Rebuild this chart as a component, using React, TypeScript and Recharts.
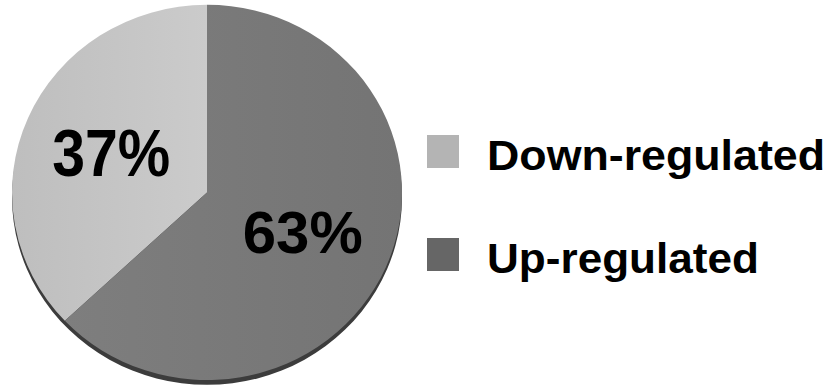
import React from "react";
import { PieChart, Pie, Cell, Legend } from "recharts";

const categories = ["Down-regulated", "Up-regulated"];
const percentages = [37, 63];
const sliceFills = ["url(#gLight)", "url(#gDark)"];
const legendColors = ["#b4b4b4", "#666666"];
const legendTextLengths = [338, 272];
const baseRing = [{ name: "base", value: 100 }];

const data = categories.map((name, i) => ({ name, value: percentages[i] }));

const RAD = Math.PI / 180;
const labelSizes = [69, 62];
const labelLengths = [118, 120];

const renderLabel = (props: any) => {
  const { cx, cy, midAngle, outerRadius, value, index } = props;
  const r = outerRadius * 0.535;
  const x = cx + r * Math.cos(-midAngle * RAD);
  const y = cy + r * Math.sin(-midAngle * RAD);
  return (
    <text
      className="pie-pct"
      x={x}
      y={y}
      textAnchor="middle"
      dominantBaseline="central"
      fontFamily="'Liberation Sans', Arial, sans-serif"
      fontWeight="bold"
      fontSize={labelSizes[index]}
      textLength={labelLengths[index]}
      lengthAdjust="spacingAndGlyphs"
      fill="#000"
    >
      {`${value}%`}
    </text>
  );
};

const LegendContent = (props: any) => {
  const payload = (props.payload || []).filter((p: any) => p.type !== "none");
  return (
    <svg width={413} height={150} style={{ display: "block", overflow: "visible" }}>
      {payload.map((p: any, i: number) => (
        <g key={p.value} transform={`translate(0, ${i * 103})`}>
          <rect x={0} y={0} width={32} height={33} fill={legendColors[i]} />
          <text
            x={60}
            y={35}
            fontFamily="'Liberation Sans', Arial, sans-serif"
            fontWeight="bold"
            fontSize={42}
            textLength={legendTextLengths[i]}
            lengthAdjust="spacingAndGlyphs"
            fill="#000"
          >
            {p.value}
          </text>
        </g>
      ))}
    </svg>
  );
};

export default function App() {
  return (
    <div style={{ position: "absolute", left: 0, top: 0, width: 840, height: 390, background: "#fff" }}>
      <style>{`.recharts-pie, .pie-pct { transform: scale(1, 0.962); }`}</style>
      <PieChart width={840} height={390} margin={{ top: 0, right: 0, bottom: 0, left: 0 }}>
        <defs>
          <linearGradient id="gLight" x1="0" y1="0" x2="1" y2="0">
            <stop offset="0%" stopColor="#bebebe" />
            <stop offset="100%" stopColor="#cbcbcb" />
          </linearGradient>
          <linearGradient id="gDark" x1="0" y1="0" x2="1" y2="0">
            <stop offset="0%" stopColor="#7e7e7e" />
            <stop offset="100%" stopColor="#747474" />
          </linearGradient>
        </defs>
        <Pie
          data={baseRing}
          dataKey="value"
          nameKey="name"
          cx={207}
          cy={205}
          outerRadius={195}
          fill="#3c3c3c"
          stroke="none"
          legendType="none"
          isAnimationActive={false}
        />
        <Pie
          data={data}
          dataKey="value"
          nameKey="name"
          cx={207}
          cy={200}
          outerRadius={195}
          startAngle={90}
          endAngle={450}
          stroke="none"
          label={renderLabel}
          labelLine={false}
          isAnimationActive={false}
        >
          {data.map((d, i) => (
            <Cell key={d.name} fill={sliceFills[i]} />
          ))}
        </Pie>
        <Legend
          layout="vertical"
          align="center"
          verticalAlign="middle"
          content={<LegendContent />}
          wrapperStyle={{ left: 427, top: 135, width: 413, height: 150 }}
        />
      </PieChart>
    </div>
  );
}
